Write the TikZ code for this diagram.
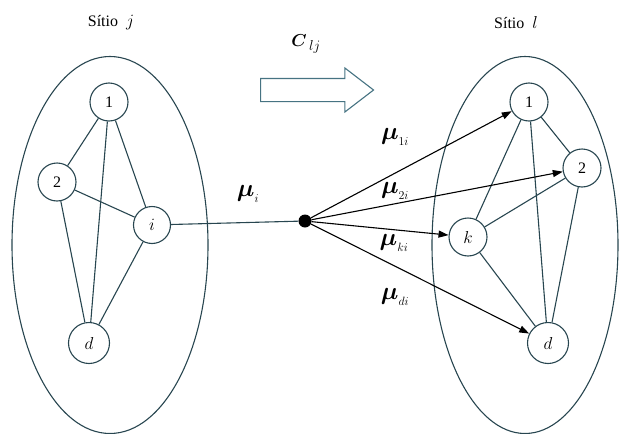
\documentclass[tikz,border=0pt]{standalone}
\usepackage{amsmath}
\usepackage{fontspec}
\setmainfont{Liberation Serif}
\usepackage{tikz}
\usetikzlibrary{shapes.geometric,shapes.arrows,arrows.meta,positioning}
\definecolor{edgeteal}{RGB}{40,70,80}
\definecolor{arrowteal}{RGB}{70,115,130}
\tikzset{
  site/.style={ellipse, draw=edgeteal, line width=1.1pt, inner sep=0pt},
  vertex/.style={circle, draw=edgeteal, line width=1.1pt, fill=white, minimum size=38pt, inner sep=0pt, font=\fontsize{16}{16}\selectfont},
  link/.style={draw=edgeteal, line width=1.1pt},
  flow/.style={-{Triangle[length=10pt,width=7pt]}, line width=1.1pt},
  hub/.style={circle, fill=black, minimum size=13pt, inner sep=0pt},
  sitelabel/.style={font=\fontsize{16}{16}\selectfont},
  rate/.style={font=\fontsize{26}{26}\selectfont},
  migr/.style={single arrow, draw=arrowteal, line width=1.1pt, minimum height=113pt, minimum width=43pt, single arrow head extend=10.5pt, single arrow tip angle=75, inner xsep=0pt, inner ysep=11pt},
}

\begin{document}
\begin{tikzpicture}[x=1pt, y=-1pt]
  \useasboundingbox (0,0) rectangle (619,434);

  % Site j
  \node[site, minimum width=196pt, minimum height=377pt] (sitej) at (110,245) {};
  \node[sitelabel] (labj) at (111,23) {Sítio\ \ $j$};
  \node[vertex] (j1) at (109,102) {1};
  \node[vertex] (j2) at (57,182) {2};
  \node[vertex, minimum size=37pt] (ji) at (152,225) {$i$};
  \node[vertex, minimum size=41pt] (jd) at (89,343) {$d$};

  \draw[link] (j1) -- (j2);
  \draw[link] (j1) -- (jd);
  \draw[link] (j1) -- (ji);
  \draw[link] (j2) -- (ji);
  \draw[link] (j2) -- (jd);
  \draw[link] (ji) -- (jd);

  % Site l
  \node[site, minimum width=186pt, minimum height=377pt] (sitel) at (525,245) {};
  \node[sitelabel] (labl) at (516,23) {Sítio\ \ $l$};
  \node[vertex] (l1) at (529,102) {1};
  \node[vertex] (l2) at (582,168) {2};
  \node[vertex] (lk) at (468,237) {$k$};
  \node[vertex, minimum size=41pt] (ld) at (548,343) {$d$};

  \draw[link] (l1) -- (l2);
  \draw[link] (l1) -- (lk);
  \draw[link] (l1) -- (ld);
  \draw[link] (l2) -- (lk);
  \draw[link] (l2) -- (ld);
  \draw[link] (lk) -- (ld);

  % migration between the sites
  \node[migr, anchor=tail] (move) at (260,90) {};
  \node[font=\fontsize{19}{19}\selectfont] (clj) at (306,44) {$\boldsymbol{C}_{\,lj}$};

  \node[hub] (dot) at (305,221) {};
  \draw[link] (ji) -- (dot);
  \node[rate] (mui) at (248,194) {$\boldsymbol{\mu}_{\scriptscriptstyle i}$};

  \draw[flow] (dot) -- (l1);
  \draw[flow] (dot) -- (l2);
  \draw[flow] (dot) -- (lk);
  \draw[flow] (dot) -- (ld);
  \node[rate] (mu1) at (395,137) {$\boldsymbol{\mu}_{\scriptscriptstyle 1i}$};
  \node[rate] (mu2) at (395,191) {$\boldsymbol{\mu}_{\scriptscriptstyle 2i}$};
  \node[rate] (muk) at (394,243) {$\boldsymbol{\mu}_{\scriptscriptstyle ki}$};
  \node[rate] (mud) at (395,297) {$\boldsymbol{\mu}_{\scriptscriptstyle di}$};

\end{tikzpicture}
\end{document}
